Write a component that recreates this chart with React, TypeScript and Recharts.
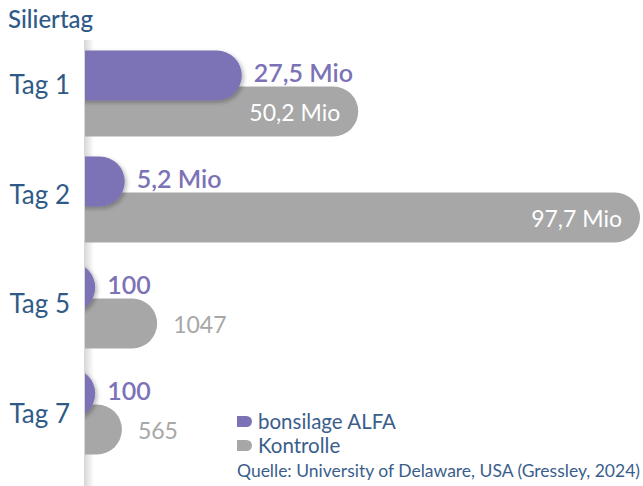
import React from "react";
import { BarChart, Bar, XAxis, YAxis, LabelList } from "recharts";

const days = ["Tag 1", "Tag 2", "Tag 5", "Tag 7"];
const alfaLabels = ["27,5 Mio", "5,2 Mio", "100", "100"];
const kontrolleLabels = ["50,2 Mio", "97,7 Mio", "1047", "565"];
// bar lengths as drawn (Mio scale, small counts shown with a minimum length)
const alfaLength = [27.6, 7.0, 1.8, 1.8];
const kontrolleLength = [48.1, 97.7, 12.7, 6.5];

const PURPLE = "#7c72b6";
const GRAY = "#a6a7a6";
const BLUE = "#2f5a87";
const FONT = "Lato, 'Open Sans', sans-serif";

const data = days.map((tag, i) => ({
  tag,
  alfa: alfaLength[i],
  kontrolle: kontrolleLength[i],
  alfaLabel: alfaLabels[i],
  kontrolleLabel: kontrolleLabels[i],
}));

const pill = (key: string, shadow: boolean) => (props: any) => {
  const { x, y, width, height, fill, index } = props;
  const r = height / 2;
  const id = `clip-${key}-${index}`;
  const fid = `shadow-${key}-${index}`;
  return (
    <g>
      <defs>
        <clipPath id={id}>
          <rect x={x} y={y - 12} width={width + 24} height={height + 24} />
        </clipPath>
        <filter id={fid} x="-20%" y="-30%" width="140%" height="160%">
          <feDropShadow dx="2" dy="2" stdDeviation="2" floodColor="#000" floodOpacity="0.28" />
        </filter>
      </defs>
      <g clipPath={`url(#${id})`}>
        <rect
          x={x - 40}
          y={y}
          width={width + 40}
          height={height}
          rx={r}
          ry={r}
          fill={fill}
          filter={shadow ? `url(#${fid})` : undefined}
        />
      </g>
    </g>
  );
};

const box = (p: any) => {
  const vb = p.viewBox && p.viewBox.width !== undefined ? p.viewBox : p;
  return { x: +vb.x, y: +vb.y, width: +vb.width, height: +vb.height };
};

const AlfaLabel = (p: any) => {
  const { x, y, width, height } = box(p);
  return (
    <text x={x + width + 12} y={y + height / 2 - 4} dominantBaseline="central" fill={PURPLE}
      fontSize={25} fontWeight={600} fontFamily={FONT}>
      {p.value}
    </text>
  );
};

const KontrolleLabel = (p: any) => {
  const { x, y, width, height } = box(p);
  const inside = width > 150;
  return (
    <text
      x={inside ? x + width - 18 : x + width + 16}
      y={y + height / 2}
      dominantBaseline="central"
      textAnchor={inside ? "end" : "start"}
      fill={inside ? "#ffffff" : GRAY}
      fontSize={23}
      fontFamily={FONT}
    >
      {p.value}
    </text>
  );
};

// day labels sit a little above the bar groups and spread slightly wider
const DayTick = (p: any) => (
  <text x={70} y={p.y - 4 + (p.index - 1.5) * 3.7} textAnchor="end" dominantBaseline="central" fill={BLUE}
    fontSize={26} fontFamily={FONT}>
    {p.payload.value}
  </text>
);

const LegendIcon = ({ color }: { color: string }) => (
  <span style={{ display: "inline-block", width: 15, height: 11, background: color,
    borderRadius: "0 6px 6px 0", marginRight: 6 }} />
);

export default function App() {
  return (
    <div style={{ position: "absolute", left: 0, top: 0, width: 643, height: 486, background: "#fff",
      fontFamily: FONT, overflow: "hidden" }}>
      <div style={{ position: "absolute", left: 84, top: 40, width: 10, height: 446,
        background: "linear-gradient(to right, rgba(0,0,0,0.16), rgba(0,0,0,0))" }} />
      <div style={{ position: "absolute", left: 8, top: 4, fontSize: 24, fontWeight: 500, color: BLUE }}>
        Siliertag
      </div>
      <div style={{ position: "absolute", left: 0, top: 0 }}>
        <BarChart width={643} height={486} data={data} layout="vertical"
          margin={{ top: 40.5, right: 3, bottom: 21.5, left: 0 }} barSize={50} barGap={-86}>
          <XAxis type="number" domain={[0, 97.7]} hide />
          <YAxis type="category" dataKey="tag" width={85} axisLine={false} tickLine={false} tick={<DayTick />} />
          <Bar dataKey="kontrolle" fill={GRAY} isAnimationActive={false} shape={pill("k", false)}>
            <LabelList dataKey="kontrolleLabel" content={<KontrolleLabel />} />
          </Bar>
          <Bar dataKey="alfa" fill={PURPLE} isAnimationActive={false} shape={pill("a", true)}>
            <LabelList dataKey="alfaLabel" content={<AlfaLabel />} />
          </Bar>
        </BarChart>
      </div>
      <div style={{ position: "absolute", left: 237, top: 409, color: "#3a5e8b", fontSize: 20.5, lineHeight: "24px" }}>
        <div style={{ display: "flex", alignItems: "center" }}><LegendIcon color={PURPLE} />bonsilage ALFA</div>
        <div style={{ display: "flex", alignItems: "center" }}><LegendIcon color={GRAY} />Kontrolle</div>
      </div>
      <div style={{ position: "absolute", left: 237, top: 460, color: "#3a5e8b", fontSize: 17.5, whiteSpace: "nowrap" }}>
        Quelle: University of Delaware, USA (Gressley, 2024)
      </div>
    </div>
  );
}
